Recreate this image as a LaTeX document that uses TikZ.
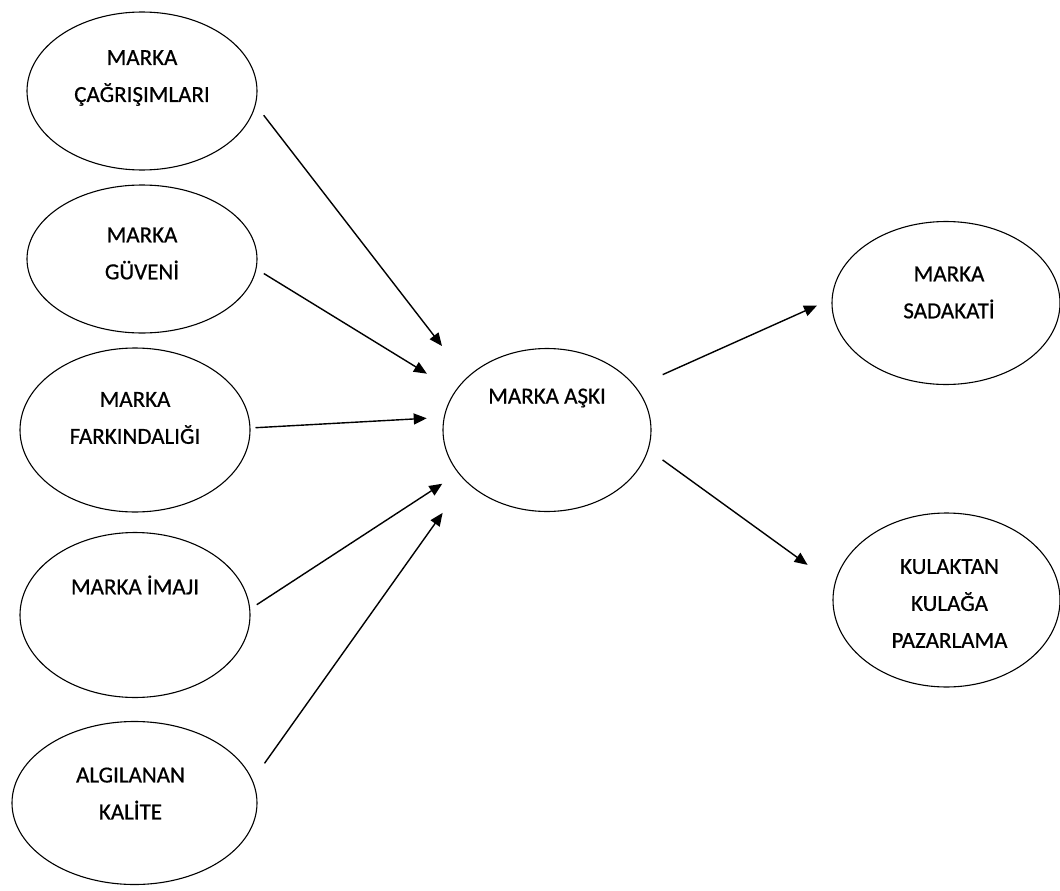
\documentclass[tikz,border=0pt]{standalone}
\usepackage{fontspec}
\setmainfont[FakeBold=0.6]{Carlito}
\usetikzlibrary{shapes.geometric, arrows.meta}

\begin{document}
\begin{tikzpicture}[x=1pt, y=-1pt,
	oval/.style={draw, ellipse, line width=1.1pt, inner sep=0pt},
	every label/.style={align=center, font=\fontsize{23}{37}\selectfont},
	link/.style={line width=1.4pt, -{Triangle[length=13pt,width=11pt]}}]
	\useasboundingbox (0,0) rectangle (1060,891);
	% left column
	\node[oval, minimum width=230pt, minimum height=158pt, label={[yshift=13pt]center:MARKA\\ÇAĞRIŞIMLARI}] (cagrisim) at (142,91) {};
	\node[oval, minimum width=230pt, minimum height=148pt, label={[yshift=5.5pt]center:MARKA\\GÜVENİ}] (guven) at (142,259) {};
	\node[oval, minimum width=230pt, minimum height=164pt, label={[yshift=12pt]center:MARKA\\FARKINDALIĞI}] (farkindalik) at (135,430) {};
	\node[oval, minimum width=230pt, minimum height=165pt, label={[yshift=30pt]center:MARKA İMAJI}] (imaj) at (135,615) {};
	\node[oval, minimum width=245pt, minimum height=163pt, label={[yshift=9.5pt, xshift=-4pt]center:ALGILANAN\\KALİTE}] (kalite) at (134.5,803) {};
	% middle and right
	\node[oval, minimum width=208pt, minimum height=163pt, label={[yshift=32pt]center:MARKA AŞKI}] (ask) at (547,430) {};
	\node[oval, minimum width=228pt, minimum height=163pt, label={[yshift=10.5pt, xshift=3pt]center:MARKA\\SADAKATİ}] (sadakat) at (946,303) {};
	\node[oval, minimum width=227pt, minimum height=174pt, label={[yshift=-3.5pt, xshift=3pt]center:KULAKTAN\\KULAĞA\\PAZARLAMA}] (kulaktan) at (946.5,600) {};

	\draw[link, shorten <=13pt, shorten >=40pt] (cagrisim.-7.4) -- (ask.147.4);
	\draw[link, shorten <=8.6pt, shorten >=33pt] (guven.-5.8) -- (ask.157.6);
	\draw[link, shorten <=5pt, shorten >=17pt] (farkindalik.1.4) -- (ask.173.5);
	\draw[link, shorten <=7.8pt, shorten >=19pt] (imaj.3.7) -- (ask.206.1);
	\draw[link, shorten <=20.5pt, shorten >=39pt] (kalite.11.8) -- (ask.212.8);
	\draw[link, shorten <=29.5pt, shorten >=16pt] (ask.26.1) -- (sadakat.178.7);
	\draw[link, shorten <=17.4pt, shorten >=33pt] (ask.-11.1) -- (kulaktan.172);
\end{tikzpicture}
\end{document}
